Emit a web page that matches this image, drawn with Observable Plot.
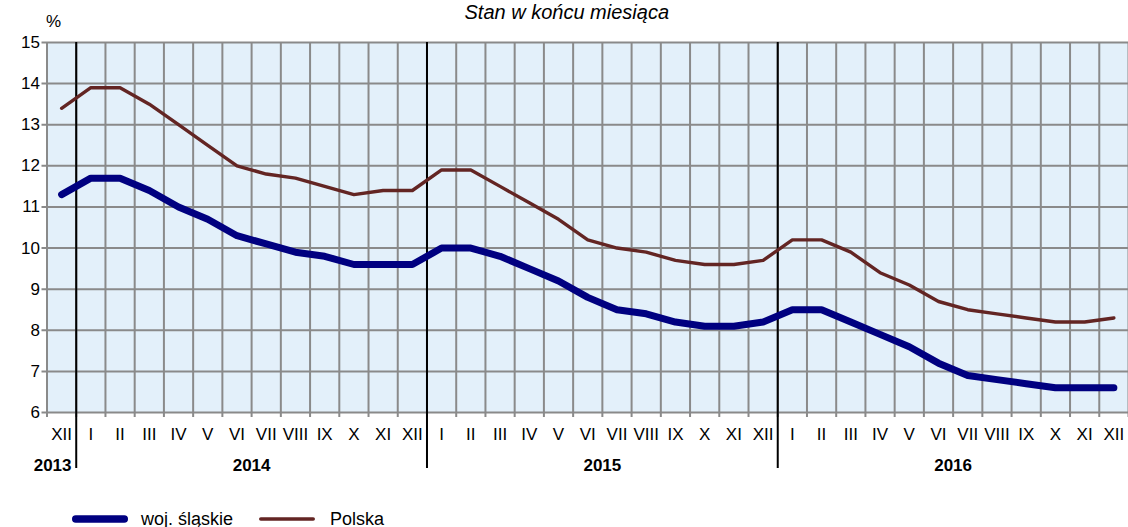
<!DOCTYPE html>
<html>
<head>
<meta charset="utf-8">
<script src="https://cdn.jsdelivr.net/npm/d3@7"></script>
<script src="https://cdn.jsdelivr.net/npm/@observablehq/plot@0.6"></script>
<style>
  html, body { margin: 0; padding: 0; background: #fff; overflow: hidden; }
  #wrap { position: relative; width: 1128px; height: 527px; font-family: "Liberation Sans", Arial, sans-serif; }
  #legend { position: absolute; top: 508px; left: 72px; display: flex; align-items: center; font-size: 18px; color: #000; height: 22px; }
  #legend .sw { display: inline-block; width: 56px; height: 22px; }
</style>
</head>
<body>
<div id="wrap"></div>
<script>
// Categories: month labels (Roman numerals) and their years
const months = ["XII",
  "I","II","III","IV","V","VI","VII","VIII","IX","X","XI","XII",
  "I","II","III","IV","V","VI","VII","VIII","IX","X","XI","XII",
  "I","II","III","IV","V","VI","VII","VIII","IX","X","XI","XII"];
const monthYears = [2013,
  2014,2014,2014,2014,2014,2014,2014,2014,2014,2014,2014,2014,
  2015,2015,2015,2015,2015,2015,2015,2015,2015,2015,2015,2015,
  2016,2016,2016,2016,2016,2016,2016,2016,2016,2016,2016,2016];

// Series values (registered unemployment rate, %)
const slaskie = [11.3,
  11.7,11.7,11.4,11.0,10.7,10.3,10.1,9.9,9.8,9.6,9.6,9.6,
  10.0,10.0,9.8,9.5,9.2,8.8,8.5,8.4,8.2,8.1,8.1,8.2,
  8.5,8.5,8.2,7.9,7.6,7.2,6.9,6.8,6.7,6.6,6.6,6.6];
const polska = [13.4,
  13.9,13.9,13.5,13.0,12.5,12.0,11.8,11.7,11.5,11.3,11.4,11.4,
  11.9,11.9,11.5,11.1,10.7,10.2,10.0,9.9,9.7,9.6,9.6,9.7,
  10.2,10.2,9.9,9.4,9.1,8.7,8.5,8.4,8.3,8.2,8.2,8.3];

const yTicks = [6,7,8,9,10,11,12,13,14,15];
const seriesNames = ["woj. śląskie", "Polska"];
const seriesColors = ["#000080", "#632523"];
const titleText = "Stan w końcu miesiąca";
const unitText = "%";

// Build table for the library
const idx = months.map((_, i) => i);
const rows = [];
idx.forEach(i => {
  rows.push({i, series: seriesNames[0], value: slaskie[i]});
  rows.push({i, series: seriesNames[1], value: polska[i]});
});
const boundaries = [-0.5, ...idx.map(i => i + 0.5)];
const yearGroups = d3.groups(idx, i => monthYears[i]).map(([year, is]) => ({
  year: String(year), x: d3.mean(is), n: is.length
}));
const separators = idx.filter(i => i < idx.length - 1 && monthYears[i] !== monthYears[i + 1]).map(i => i + 0.5);

const chart = Plot.plot({
  width: 1128,
  height: 500,
  marginLeft: 46.5,
  marginRight: 0,
  marginTop: 42,
  marginBottom: 88,
  style: {fontFamily: "'Liberation Sans', Arial, sans-serif", background: "transparent", color: "#000"},
  x: {type: "linear", domain: [-0.5, 36.5], axis: null},
  y: {domain: [6, 15], axis: null},
  marks: [
    Plot.frame({fill: "#e3f0fa", stroke: null}),
    Plot.ruleY(yTicks, {stroke: "#8a8a8a", strokeWidth: 2, insetLeft: -5}),
    Plot.ruleX(boundaries, {stroke: "#8a8a8a", strokeWidth: 2, insetBottom: -5}),
    Plot.ruleX(separators, {stroke: "#000", strokeWidth: 2, insetBottom: -56}),
    Plot.axisY(yTicks, {tickSize: 0, tickPadding: 7, fontSize: 17, label: null, tickFormat: d => String(d)}),
    Plot.axisX(idx, {tickSize: 0, tickPadding: 15, fontSize: 17, label: null, tickFormat: i => months[i]}),
    Plot.text(yearGroups.filter(d => d.n > 1), {x: "x", text: "year", frameAnchor: "bottom", dy: 53,
      fontSize: 17, fontWeight: "bold", lineAnchor: "middle"}),
    Plot.text(yearGroups.filter(d => d.n === 1), {x: "x", text: "year", frameAnchor: "bottom", dy: 53, dx: -9,
      fontSize: 17, fontWeight: "bold", lineAnchor: "middle"}),
    Plot.line(rows.filter(d => d.series === seriesNames[1]), {x: "i", y: "value", stroke: seriesColors[1], strokeWidth: 3.4,
      strokeLinejoin: "round", strokeLinecap: "round"}),
    Plot.line(rows.filter(d => d.series === seriesNames[0]), {x: "i", y: "value", stroke: seriesColors[0], strokeWidth: 7,
      strokeLinejoin: "round", strokeLinecap: "round"}),
    Plot.text([titleText], {frameAnchor: "top", dy: -30, dx: -21, fontSize: 20, fontStyle: "italic", lineAnchor: "middle"}),
    Plot.text([unitText], {frameAnchor: "top-left", dx: -1, dy: -21, fontSize: 17, textAnchor: "start", lineAnchor: "middle"})
  ]
});

const wrap = document.getElementById("wrap");
chart.style.position = "absolute";
chart.style.left = "0";
chart.style.top = "0";
wrap.appendChild(chart);

// Legend below the chart
const legend = document.createElement("div");
legend.id = "legend";
const widths = [7.5, 3.6];
const gaps = [26, 0];
seriesNames.forEach((name, k) => {
  const sw = document.createElementNS("http://www.w3.org/2000/svg", "svg");
  sw.setAttribute("class", "sw");
  sw.setAttribute("width", 56);
  sw.setAttribute("height", 22);
  const ln = document.createElementNS("http://www.w3.org/2000/svg", "line");
  ln.setAttribute("x1", widths[k] / 2);
  ln.setAttribute("x2", 56 - widths[k] / 2);
  ln.setAttribute("y1", 11);
  ln.setAttribute("y2", 11);
  ln.setAttribute("stroke", seriesColors[k]);
  ln.setAttribute("stroke-width", widths[k]);
  ln.setAttribute("stroke-linecap", "round");
  sw.appendChild(ln);
  const label = document.createElement("span");
  label.textContent = name;
  label.style.marginLeft = (k === 0 ? 13 : 15) + "px";
  label.style.marginRight = gaps[k] + "px";
  legend.appendChild(sw);
  legend.appendChild(label);
});
wrap.appendChild(legend);
</script>
</body>
</html>
